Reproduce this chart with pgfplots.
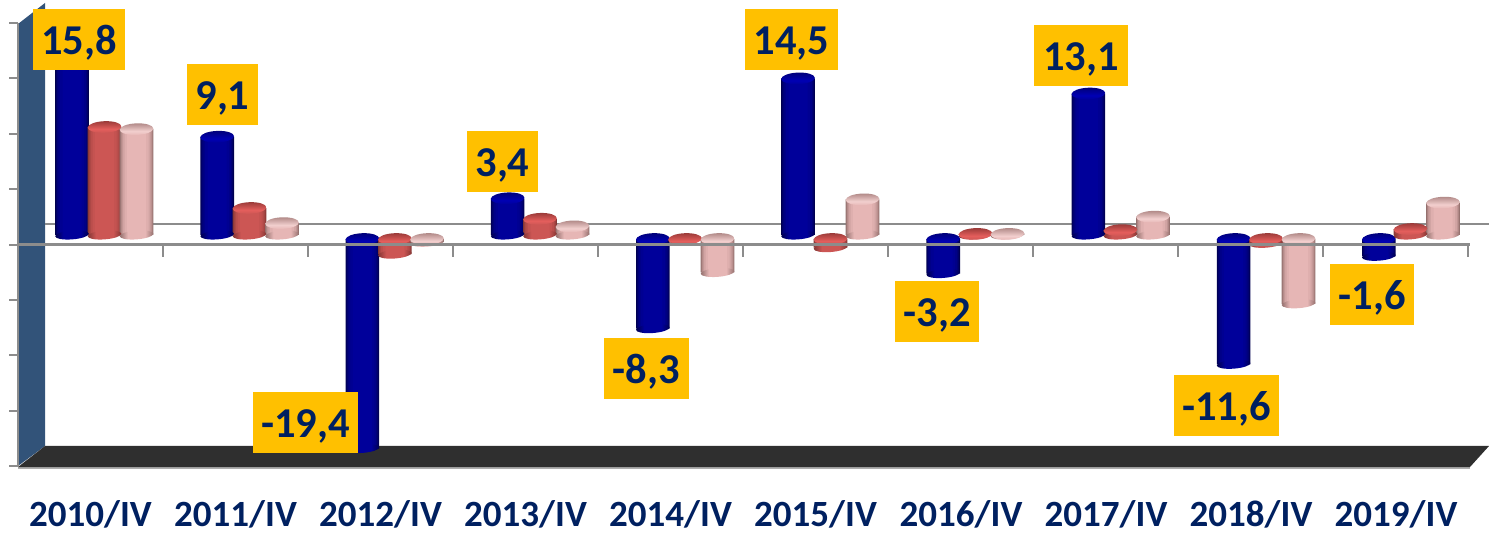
\documentclass[border=0pt]{standalone}
\usepackage{fontspec}
\setmainfont{Carlito}
\usepackage{pgfplots}
\usepackage{pgfplotstable}
\pgfplotsset{compat=1.18}
\definecolor{labelbg}{HTML}{FFC000}
\definecolor{labeltx}{HTML}{002060}
\definecolor{wall}{HTML}{325379}
\definecolor{floordark}{HTML}{2F2F2F}
\definecolor{axgray}{HTML}{8C8C8C}
\definecolor{bE}{HTML}{00004E}\definecolor{bM}{HTML}{00009A}\definecolor{bT}{HTML}{000078}\definecolor{bL}{HTML}{0000B4}
\definecolor{rE}{HTML}{843634}\definecolor{rM}{HTML}{CC5654}\definecolor{rT}{HTML}{9A3A38}\definecolor{rL}{HTML}{E45E5C}
\definecolor{pE}{HTML}{94706E}\definecolor{pM}{HTML}{E6B6B5}\definecolor{pT}{HTML}{B08886}\definecolor{pL}{HTML}{F2CFCE}

% cylinder parts: shading of cap and base ellipse for one series
\newcommand{\defcyl}[5]{%
  \pgfdeclarehorizontalshading{bar#1}{100bp}{color(0bp)=(#2); color(25bp)=(#2); color(37bp)=(#3); color(63bp)=(#3); color(75bp)=(#2); color(100bp)=(#2)}%
  \pgfdeclareverticalshading{top#1}{100bp}{color(0bp)=(#3); color(25bp)=(#3); color(42bp)=(#5); color(75bp)=(#4); color(100bp)=(#4)}%
  \pgfdeclareplotmark{cap#1}{\pgfpathellipse{\pgfpointorigin}{\pgfqpoint{16.8pt}{0.6pt}}{\pgfqpoint{0pt}{5.8pt}}\pgfshadepath{top#1}{0}\pgfusepath{discard}}%
  \pgfdeclareplotmark{base#1}{\pgfpathellipse{\pgfpointorigin}{\pgfqpoint{16.8pt}{1.2pt}}{\pgfqpoint{0pt}{4.4pt}}\pgfshadepath{bar#1}{0}\pgfusepath{discard}}%
}
\defcyl{b}{bE}{bM}{bT}{bL}
\defcyl{r}{rE}{rM}{rT}{rL}
\defcyl{p}{pE}{pM}{pT}{pL}

\pgfplotstableread{
xb     blue   xr     red    xp     pink
72.0   15.8   104.5  10.0   136.5  9.8
217.2  9.1    249.5  2.5    282.0  1.1
362.4  -19.4  394.8  -1.4   427.0  -0.3
507.6  3.4    540.0  1.5    572.5  0.8
652.8  -8.3   685.0  -0.05  717.5  -3.1
798.0  14.5   830.5  -0.8   862.5  3.3
943.2  -3.2   975.5  0.1    1007.5 0.1
1088.4 13.1   1120.5 0.45   1153.0 1.7
1233.6 -11.6  1266.0 -0.4   1298.5 -6.0
1378.8 -1.6   1410.5 0.55   1443.0 3.0
}\cdata

% nested flat bars stand in for the side shading (a shade would stretch over the whole plot)
\newcommand{\layer}[7]{%
  \addplot[ybar, bar width=#6pt, bar shift=0pt, draw=none, fill=#3M!#7!#3E, yshift=#4, restrict expr to domain={\thisrow{#1}}{#5}] table[x=#2, y=#1] {\cdata};
}
% one series: positive and negative bars sit a little apart in the 3D view
\newcommand{\cylpart}[5]{%
  \addplot[only marks, mark=base#3, yshift=#4, restrict expr to domain={\thisrow{#1}}{#5}] table[x=#2, y expr={min(\thisrow{#1},0)}] {\cdata};
  \layer{#1}{#2}{#3}{#4}{#5}{33.6}{0}
  \layer{#1}{#2}{#3}{#4}{#5}{32}{30}
  \layer{#1}{#2}{#3}{#4}{#5}{30}{55}
  \layer{#1}{#2}{#3}{#4}{#5}{27.5}{75}
  \layer{#1}{#2}{#3}{#4}{#5}{24}{90}
  \layer{#1}{#2}{#3}{#4}{#5}{19}{100}
  \addplot[only marks, mark=cap#3, yshift=#4, restrict expr to domain={\thisrow{#1}}{#5}] table[x=#2, y expr={max(\thisrow{#1},0)}] {\cdata};
}
\newcommand{\cyl}[3]{\cylpart{#1}{#2}{#3}{2pt}{0:100}\cylpart{#1}{#2}{#3}{-2pt}{-100:0}}

\newcommand{\vlabel}[4]{\node[fill=labelbg, inner sep=0pt, text=labeltx, font=\fontsize{42.5}{43}\selectfont\bfseries, minimum width=#3pt, minimum height=61pt, text height=33pt, text depth=3pt] at (axis cs:#1,#2) {#4};}

\begin{document}
\begin{tikzpicture}
\path[use as bounding box] (0,0) rectangle (1489pt,537pt);
% background: wall, floor, back line
\begin{axis}[at={(0,0)}, anchor=south west, scale only axis, width=1489pt, height=537pt,
  hide axis, xmin=0, xmax=1489, ymin=0, ymax=537, y dir=reverse, clip=false]
  \fill[wall] (axis cs:18,24) -- (axis cs:45,3) -- (axis cs:45,446) -- (axis cs:18,466) -- cycle;
  \fill[axgray!70] (axis cs:18,467) -- (axis cs:1470,467) -- (axis cs:1470,469) -- (axis cs:18,469) -- cycle;
  \fill[floordark] (axis cs:18,467) -- (axis cs:45,446) -- (axis cs:1489,446) -- (axis cs:1470,467) -- cycle;
  \draw[axgray, line width=2pt] (axis cs:45,224) -- (axis cs:1489,224);
  \draw[axgray, line width=2pt] (axis cs:17.5,23) -- (axis cs:17.5,467);
  \pgfplotsinvokeforeach{23,78.5,134,189.5,245,300,355.5,411,466}{
    \draw[axgray, line width=2pt] (axis cs:9,#1) -- (axis cs:18,#1);
  }
\end{axis}
% bars
\begin{axis}[at={(0,0)}, anchor=south west, scale only axis, width=1489pt, height=537pt,
  hide axis, xmin=0, xmax=1489, ymin=-27.778, ymax=21.944, clip=false]
  \cyl{blue}{xb}{b}
  \cyl{red}{xr}{r}
  \cyl{pink}{xp}{p}
\end{axis}
% front line, labels, categories
\begin{axis}[at={(0,0)}, anchor=south west, scale only axis, width=1489pt, height=537pt,
  axis line style={draw=none}, xmin=0, xmax=1489, ymin=0, ymax=537, y dir=reverse, clip=false,
  ytick=\empty, xtick pos=lower, xticklabel pos=lower, major tick length=0pt,
  xtick={90.5,235.5,380.5,525.5,670.5,815.5,961,1106,1251,1396},
  xticklabels={2010/IV,2011/IV,2012/IV,2013/IV,2014/IV,2015/IV,2016/IV,2017/IV,2018/IV,2019/IV},
  xticklabel style={anchor=base, yshift=10.3pt, text=labeltx, font=\fontsize{37}{37}\selectfont\bfseries}]
  \draw[axgray, line width=3pt] (axis cs:18,245) -- (axis cs:1470,245);
  \pgfplotsinvokeforeach{163,308,453,598,743,888,1033,1178,1323,1468}{
    \draw[axgray, line width=2pt] (axis cs:#1,245) -- (axis cs:#1,257);
  }
  \vlabel{79}{39.5}{92}{15,8}
  \vlabel{222.5}{94.5}{71}{9,1}
  \vlabel{305.5}{422.5}{105}{-19,4}
  \vlabel{502.5}{161.5}{71}{3,4}
  \vlabel{646.5}{368.5}{85}{-8,3}
  \vlabel{791.5}{39.5}{93}{14,5}
  \vlabel{937}{311.5}{84}{-3,2}
  \vlabel{1081}{55.5}{94}{13,1}
  \vlabel{1226.5}{405.5}{105}{-11,6}
  \vlabel{1372}{294.5}{84}{-1,6}
\end{axis}
\end{tikzpicture}
\end{document}
